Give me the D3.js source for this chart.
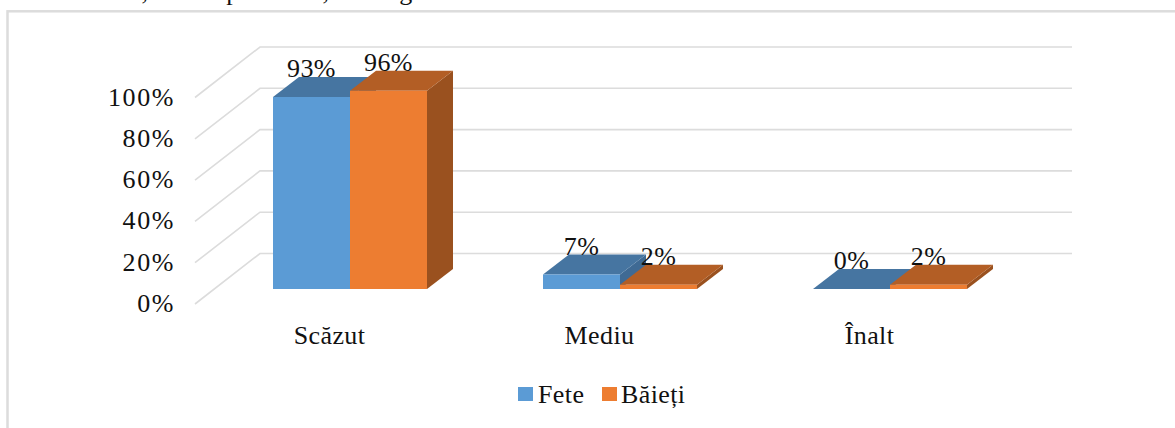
<!DOCTYPE html>
<html><head><meta charset="utf-8">
<script src="https://cdn.jsdelivr.net/npm/d3@7"></script>
<style>html,body{margin:0;padding:0;background:#fff;overflow:hidden}svg{display:block}text{font-family:"Liberation Serif",serif;fill:#111;letter-spacing:0.4px}</style>
</head><body><svg id="c" width="1175" height="428"></svg>
<script>
const categories = ["Scăzut","Mediu","Înalt"];
const seriesNames = ["Fete","Băieți"];
const fete = [93,7,0];
const baieti = [96,2,2];
const ticks = [0,20,40,60,80,100];
const clippedTopText = [[145,","],[233,"p"],[326,","],[406,"g"]];
const colors = {front:["#5b9bd5","#ed7d31"],top:["#4675a1","#b35e25"],side:["#3f6a94","#9a511f"]};

const svg = d3.select("#c");
const FS = 26;
svg.append("rect").attr("x",7.5).attr("y",11.3).attr("width",1200).attr("height",440)
  .attr("fill","#fff").attr("stroke","#dcdcdc").attr("stroke-width",2.5);
clippedTopText.forEach(d=>svg.append("text").attr("x",d[0]).attr("y",0).attr("text-anchor","middle").attr("font-size",FS).text(d[1]));

const y = d3.scaleLinear().domain([0,100]).range([289,82.5]);
const x0 = d3.scaleBand().domain(categories).range([273,967]).paddingInner(116/270).paddingOuter(0);
const x1 = d3.scaleBand().domain(seriesNames).range([0,x0.bandwidth()]);
const dx=26, dy=20;
const wallDx=65, wallDy=50.5, floorShift=15;

const grid = svg.append("g").attr("fill","none").attr("stroke","#dcdcdc").attr("stroke-width",1.6);
ticks.forEach(t=>{
  const yf=y(t)+floorShift;
  grid.append("path").attr("d",d3.line()([[195,yf],[195+wallDx,yf-wallDy],[1072,yf-wallDy]]));
});
const axisG = svg.append("g");
const ax = d3.axisLeft(d3.scaleLinear().domain([0,100]).range([y(0)+floorShift,y(100)+floorShift]))
  .tickValues(ticks).tickFormat(d=>d+"%").tickSize(0).tickPadding(0);
axisG.attr("transform","translate(175,0)").call(ax);
axisG.select(".domain").remove();
axisG.selectAll("text").attr("font-size",FS).attr("dy","0.29em").style("font-family","'Liberation Serif',serif").style("letter-spacing","1.6px");

const bars = svg.append("g");
function poly(g,pts,fill){g.append("polygon").attr("points",pts.map(p=>p.join(",")).join(" ")).attr("fill",fill);}
categories.forEach((c,i)=>{
  [fete,baieti].forEach((vals,s)=>{
    const v=vals[i], L=x0(c)+x1(seriesNames[s]), R=L+x1.bandwidth(), T=y(v), B=y(0);
    const g=bars.append("g");
    poly(g,[[R,T],[R+dx,T-dy],[R+dx,B-dy],[R,B]],colors.side[s]);
    poly(g,[[L,T],[L+dx,T-dy],[R+dx,T-dy],[R,T]],colors.top[s]);
    if(v>0) poly(g,[[L,T],[R,T],[R,B],[L,B]],colors.front[s]);
  });
});
const labels = svg.append("g").attr("font-size",FS).attr("text-anchor","middle");
categories.forEach((c,i)=>{
  [fete,baieti].forEach((vals,s)=>{
    const cx=x0(c)+x1(seriesNames[s])+x1.bandwidth()/2;
    labels.append("text").attr("x",cx).attr("y",y(vals[i])-20).text(vals[i]+"%");
  });
  svg.append("text").attr("x",x0(c)+x0.bandwidth()/2-20.5).attr("y",344).attr("text-anchor","middle").attr("font-size",FS).text(c);
});
const lg = svg.append("g");
[[518,538],[602,621]].forEach((d,i)=>{
  lg.append("rect").attr("x",d[0]).attr("y",387).attr("width",15).attr("height",14).attr("fill",colors.front[i]);
  lg.append("text").attr("x",d[1]).attr("y",403).attr("font-size",FS).text(seriesNames[i]);
});
</script></body></html>
